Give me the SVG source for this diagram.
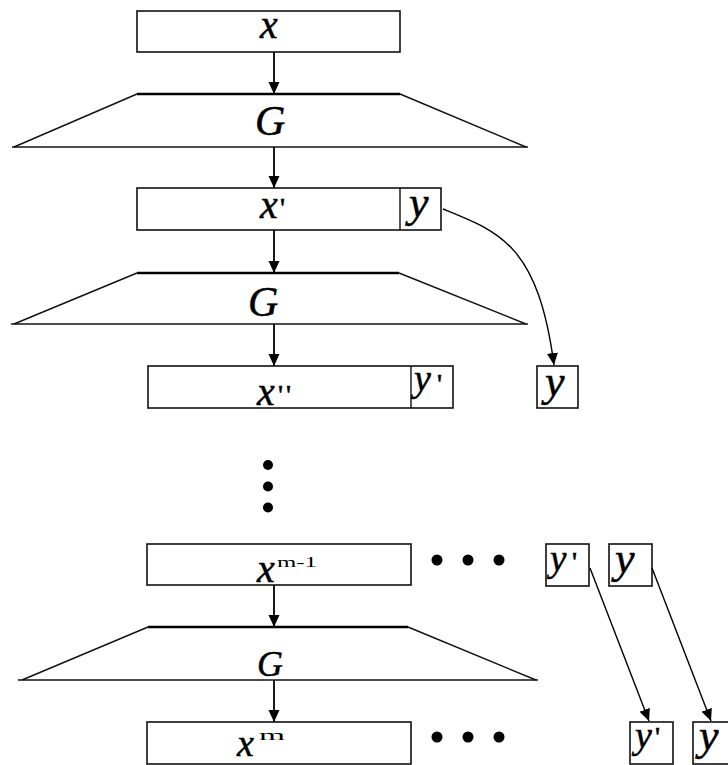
<svg xmlns="http://www.w3.org/2000/svg" width="728" height="765" viewBox="0 0 728 765">
<defs>
<style>
.box{fill:#fff;stroke:#111;stroke-width:1.6}
.div{stroke:#111;stroke-width:1.4}
.top{stroke:#000;stroke-width:2.6;fill:none}
.side{stroke:#111;stroke-width:1.4;fill:none}
.bot{stroke:#111;stroke-width:1.6;fill:none}
.t{font-family:"Liberation Serif","Times New Roman",serif;font-style:italic;fill:#000;stroke:#000;stroke-width:0.5}
.sup{font-family:"Liberation Serif","Times New Roman",serif;fill:#000}
.pr{font-family:"Liberation Serif","Times New Roman",serif;font-size:28px;fill:#000;stroke:#000;stroke-width:0.6}
.conn{stroke:#000;stroke-width:1.8;fill:none}
.thin{stroke:#000;stroke-width:1.4;fill:none}
.dot{fill:#000}
</style>
<marker id="ah" markerUnits="userSpaceOnUse" markerWidth="12" markerHeight="12" refX="12" refY="6" orient="auto" viewBox="0 0 12 12">
<path d="M0,0.5 L12,6 L0,11.5 z" fill="#000"/>
</marker>
</defs>
<rect width="728" height="765" fill="#fff"/>

<g id="x0">
<rect class="box" x="137" y="11" width="263" height="41"/>
<text class="t" x="260" y="38" font-size="40">x</text>
</g>

<g id="G1">
<path class="side" d="M137,94 L14,147 M400,94 L526,147"/>
<path class="top" d="M137,94 L400,94"/>
<path class="bot" d="M12,147 L528,147"/>
<text class="t" x="255" y="135" font-size="42">G</text>
</g>

<g id="x1">
<rect class="box" x="137" y="188" width="304" height="42"/>
<line class="div" x1="400" y1="188" x2="400" y2="230"/>
<text class="t" x="260" y="218" font-size="40">x</text>
<text class="pr" x="280" y="217">'</text>
<text class="t" x="409" y="217" font-size="44">y</text>
</g>

<g id="G2">
<path class="side" d="M137,273 L14,324 M399,273 L526,324"/>
<path class="top" d="M137,273 L399,273"/>
<path class="bot" d="M11,324 L528,324"/>
<text class="t" x="248" y="316" font-size="42">G</text>
</g>

<g id="x2">
<rect class="box" x="148" y="366" width="305" height="42"/>
<line class="div" x1="411" y1="366" x2="411" y2="408"/>
<text class="t" x="257" y="405" font-size="40">x</text>
<text class="pr" x="278" y="404" letter-spacing="3">''</text>
<text class="t" x="414" y="391" font-size="38">y</text>
<text class="pr" x="437" y="393">'</text>
</g>

<g id="y1">
<rect class="box" x="537" y="366" width="41" height="42"/>
<text class="t" x="545" y="396" font-size="44">y</text>
</g>

<g id="vdots">
<circle class="dot" cx="268" cy="465" r="5"/>
<circle class="dot" cx="268" cy="486.5" r="5"/>
<circle class="dot" cx="268" cy="507.5" r="5"/>
</g>

<g id="xm1">
<rect class="box" x="147" y="544" width="264" height="41"/>
<text class="t" x="257" y="582" font-size="40">x</text>
<text class="sup" x="277" y="567" font-size="14" textLength="40" lengthAdjust="spacingAndGlyphs">m-1</text>
</g>

<g id="hdots1">
<circle class="dot" cx="437" cy="560" r="5.5"/>
<circle class="dot" cx="468" cy="560" r="5.5"/>
<circle class="dot" cx="499" cy="560" r="5.5"/>
</g>

<g id="yp2">
<rect class="box" x="546" y="544" width="43" height="42"/>
<text class="t" x="550" y="571" font-size="37">y</text>
<text class="pr" x="572" y="571">'</text>
</g>

<g id="y2">
<rect class="box" x="609" y="544" width="43" height="42"/>
<text class="t" x="615" y="573" font-size="44">y</text>
</g>

<g id="G3">
<path class="side" d="M148,627 L22,680 M408,627 L536,680"/>
<path class="top" d="M148,627 L408,627"/>
<path class="bot" d="M18,680 L538,680"/>
<text class="t" x="257" y="676" font-size="36">G</text>
</g>

<g id="xm">
<rect class="box" x="147" y="722" width="264" height="42"/>
<text class="t" x="237" y="756" font-size="38">x</text>
<text class="sup" x="259" y="740" font-size="14" textLength="26" lengthAdjust="spacingAndGlyphs">m</text>
</g>

<g id="hdots2">
<circle class="dot" cx="437" cy="737" r="5.5"/>
<circle class="dot" cx="468" cy="737" r="5.5"/>
<circle class="dot" cx="499" cy="737" r="5.5"/>
</g>

<g id="yp3">
<rect class="box" x="630" y="722" width="43" height="42"/>
<text class="t" x="635" y="748" font-size="38">y</text>
<text class="pr" x="655" y="746">'</text>
</g>

<g id="y3">
<rect class="box" x="693" y="722" width="43" height="42"/>
<text class="t" x="699" y="750" font-size="44">y</text>
</g>

<g id="connectors">
<line class="conn" x1="274" y1="52" x2="274" y2="94" marker-end="url(#ah)"/>
<line class="conn" x1="274" y1="147" x2="274" y2="188" marker-end="url(#ah)"/>
<line class="conn" x1="274" y1="230" x2="274" y2="273" marker-end="url(#ah)"/>
<line class="conn" x1="274" y1="324" x2="274" y2="366" marker-end="url(#ah)"/>
<line class="conn" x1="274" y1="585" x2="274" y2="627" marker-end="url(#ah)"/>
<line class="conn" x1="274" y1="680" x2="274" y2="722" marker-end="url(#ah)"/>
<path class="thin" d="M443,209 C500,232 538,245 554,365" marker-end="url(#ah)"/>
<line class="thin" x1="590" y1="568" x2="649" y2="721" marker-end="url(#ah)"/>
<line class="thin" x1="652" y1="568" x2="711" y2="721" marker-end="url(#ah)"/>
</g>
</svg>
